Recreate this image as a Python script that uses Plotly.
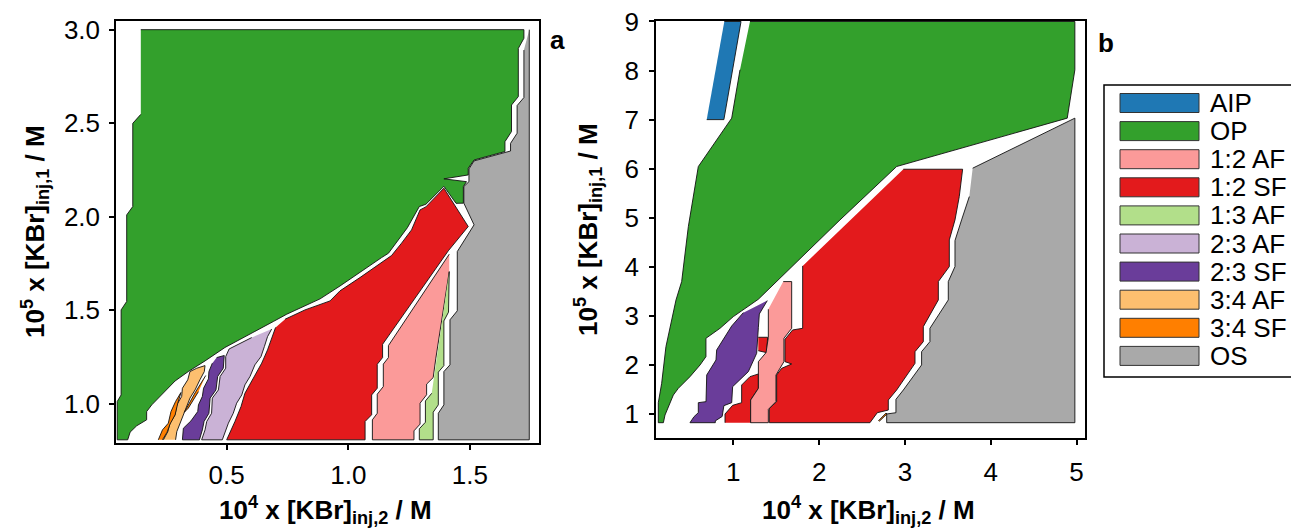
import plotly.graph_objects as go

W, H = 1291, 531
FONT = "Liberation Sans, Arial, sans-serif"

# ---------------- categories / styles ----------------
LABELS = ["AIP", "OP", "1:2 AF", "1:2 SF", "1:3 AF", "2:3 AF", "2:3 SF", "3:4 AF", "3:4 SF", "OS"]
COLORS = {"AIP": "#1f78b4", "OP": "#33a02c", "1:2 AF": "#fb9a99", "1:2 SF": "#e31a1c",
          "1:3 AF": "#b2df8a", "2:3 AF": "#cab2d6", "2:3 SF": "#6a3d9a", "3:4 AF": "#fdbf6f",
          "3:4 SF": "#ff7f00", "OS": "#a9a9a9"}

# ---------------- tick values ----------------
A_XTICKS = [0.5, 1.0, 1.5]
A_XTICKTEXT = ["0.5", "1.0", "1.5"]
A_YTICKS = [1.0, 1.5, 2.0, 2.5, 3.0]
A_YTICKTEXT = ["1.0", "1.5", "2.0", "2.5", "3.0"]
B_XTICKS = [1, 2, 3, 4, 5]
B_YTICKS = [1, 2, 3, 4, 5, 6, 7, 8, 9]

# ---------------- panel a region boundaries (10^4 x [KBr]inj,2 , 10^5 x [KBr]inj,1) ----------------
A_OP_X = [0.147, 1.722, 1.722, 1.699, 1.699, 1.671, 1.671, 1.644, 1.644, 1.517, 1.493, 1.493, 1.393, 1.486,
          1.473, 1.473, 1.443, 1.393, 1.319, 1.292, 1.243, 1.206, 1.165, 1.137, 1.048, 0.966, 0.884, 0.808,
          0.747, 0.692, 0.575, 0.493, 0.411, 0.342, 0.288, 0.253, 0.219, 0.192, 0.171, 0.171, 0.130, 0.103,
          0.093, 0.050, 0.050, 0.066, 0.066, 0.089, 0.089, 0.114, 0.114, 0.147]
A_OP_Y = [3.000, 3.000, 2.954, 2.900, 2.642, 2.597, 2.455, 2.401, 2.348, 2.303, 2.259, 2.223, 2.202, 2.187,
          2.161, 2.072, 2.071, 2.162, 2.066, 2.054, 1.941, 1.875, 1.804, 1.781, 1.701, 1.629, 1.560, 1.514,
          1.478, 1.439, 1.358, 1.300, 1.228, 1.171, 1.121, 1.073, 1.025, 0.993, 0.957, 0.913, 0.881, 0.847,
          0.806, 0.806, 1.011, 1.046, 1.501, 1.546, 2.009, 2.054, 2.499, 2.547]

A_OS_X = [1.744, 1.744, 1.370, 1.370, 1.393, 1.393, 1.418, 1.418, 1.448, 1.448, 1.517, 1.475, 1.475, 1.496,
          1.496, 1.517, 1.667, 1.667, 1.694, 1.694, 1.722, 1.722]
A_OS_Y = [3.000, 0.806, 0.806, 0.948, 0.993, 1.171, 1.207, 1.448, 1.496, 1.813, 1.956, 2.072, 2.161, 2.187,
          2.255, 2.298, 2.351, 2.392, 2.446, 2.594, 2.637, 2.891]

A_SF12_X = [0.740, 0.822, 0.925, 0.966, 1.048, 1.144, 1.178, 1.219, 1.260, 1.295, 1.319, 1.393, 1.493, 1.411,
            1.151, 1.141, 1.141, 1.119, 1.119, 1.096, 1.096, 1.069, 1.069, 0.500, 0.534, 0.559, 0.575, 0.610,
            0.644, 0.668, 0.685, 0.701]
A_SF12_Y = [1.451, 1.501, 1.549, 1.603, 1.674, 1.760, 1.792, 1.858, 1.929, 2.036, 2.052, 2.152, 1.947, 1.817,
            1.341, 1.317, 1.246, 1.210, 1.082, 1.046, 0.940, 0.904, 0.806, 0.806, 0.904, 0.984, 1.055, 1.136,
            1.216, 1.287, 1.350, 1.407]

A_AF12_X = [1.415, 1.174, 1.165, 1.165, 1.144, 1.144, 1.119, 1.119, 1.099, 1.099, 1.270, 1.270, 1.295, 1.295,
            1.322, 1.322, 1.349, 1.360, 1.415]
A_AF12_Y = [1.799, 1.332, 1.310, 1.246, 1.211, 1.091, 1.050, 0.948, 0.913, 0.806, 0.806, 0.854, 0.890, 1.002,
            1.047, 1.104, 1.139, 1.243, 1.706]

A_AF13_X = [1.415, 1.412, 1.393, 1.393, 1.370, 1.370, 1.349, 1.349, 1.292, 1.292, 1.317, 1.317, 1.343]
A_AF13_Y = [1.706, 1.489, 1.442, 1.203, 1.168, 0.993, 0.954, 0.806, 0.806, 0.865, 0.900, 1.014, 1.055]

A_AF23_X = [0.685, 0.668, 0.655, 0.641, 0.616, 0.596, 0.575, 0.562, 0.541, 0.527, 0.507, 0.482, 0.397, 0.411,
            0.418, 0.438, 0.441, 0.466, 0.473, 0.496, 0.496, 0.510, 0.603]
A_AF23_Y = [1.399, 1.358, 1.305, 1.251, 1.207, 1.145, 1.100, 1.046, 1.002, 0.948, 0.895, 0.806, 0.806, 0.859,
            0.904, 0.948, 1.029, 1.073, 1.145, 1.189, 1.251, 1.292, 1.353]

A_SF23_X = [0.459, 0.490, 0.486, 0.463, 0.456, 0.432, 0.427, 0.407, 0.400, 0.388, 0.318, 0.322, 0.353, 0.381,
            0.384, 0.400, 0.405, 0.425, 0.427, 0.441]
A_SF23_Y = [1.246, 1.257, 1.189, 1.145, 1.073, 1.029, 0.948, 0.904, 0.859, 0.806, 0.806, 0.868, 0.907, 0.957,
            0.993, 1.038, 1.082, 1.132, 1.171, 1.216]

A_AF34_X = [0.240, 0.258, 0.267, 0.288, 0.295, 0.315, 0.318, 0.340, 0.349, 0.377, 0.411, 0.408, 0.390, 0.370,
            0.349, 0.336, 0.322, 0.308, 0.295, 0.290]
A_AF34_Y = [0.806, 0.850, 0.895, 0.940, 0.993, 1.038, 1.082, 1.127, 1.171, 1.189, 1.203, 1.171, 1.127, 1.073,
            1.029, 0.984, 0.940, 0.895, 0.850, 0.806]

A_SF34_X = [0.219, 0.236, 0.260, 0.271, 0.290, 0.312, 0.299, 0.288, 0.267, 0.255, 0.236, None,
            0.414, 0.373, 0.326, 0.342, 0.384]
A_SF34_Y = [0.806, 0.859, 0.895, 0.957, 1.011, 1.059, 1.002, 0.940, 0.890, 0.847, 0.806, None,
            1.150, 1.064, 0.954, 0.975, 1.064]

# ---------------- panel b region boundaries ----------------
B_AIP_X = [0.69, 0.89, 1.09, 0.895]
B_AIP_Y = [7.0, 7.0, 9.0, 9.0]

B_OP_X = [1.194, 4.98, 4.98, 4.891, 2.903, 2.243, 1.291, 1.000, 0.845, 0.681, 0.681, 0.612, 0.495, 0.359,
          0.301, 0.243, 0.204, 0.185, 0.126, 0.126, 0.165, 0.215, 0.332, 0.398, 0.476, 0.592, 0.981, 1.078]
B_OP_Y = [9.0, 9.0, 8.015, 7.03, 6.044, 4.956, 3.338, 2.985, 2.747, 2.543, 2.169, 1.999, 1.761, 1.523,
          1.387, 1.149, 0.979, 0.823, 0.823, 1.231, 1.625, 2.373, 3.325, 3.699, 4.82, 6.043, 7.03, 8.015]

B_SF12_X = [2.981, 3.672, 3.633, 3.583, 3.517, 3.517, 3.389, 3.389, 3.214, 3.214, 3.117, 3.117, 2.903, 2.806,
            2.806, 2.678, 2.592, 1.419, 1.419, 1.505, 1.505, 1.563, 1.680, 1.602, 1.602, 1.691, 1.808, 1.808,
            None, 1.291, 1.400, 1.388, 1.291,
            None, 0.903, 0.903, 0.992, 1.097, 1.097, 1.194, 1.292, 1.292, 1.202, 1.202]
B_SF12_Y = [5.989, 5.989, 5.432, 4.956, 4.549, 4.005, 3.699, 3.325, 2.781, 2.475, 2.271, 2.033, 1.489, 1.285,
            1.081, 1.027, 0.823, 0.823, 1.116, 1.252, 1.795, 1.931, 2.020, 2.067, 2.523, 2.713, 2.747, 4.018,
            None, 2.564, 2.564, 2.251, 2.290,
            None, 0.823, 1.000, 1.177, 1.231, 1.591, 1.761, 1.816, 1.523, 1.285, 0.823]

B_AF12_X = [1.582, 1.680, 1.680, 1.590, 1.590, 1.497, 1.497, 1.408, 1.408, 1.202, 1.202, 1.292, 1.292, 1.381,
            1.408, 1.408]
B_AF12_Y = [3.699, 3.699, 2.747, 2.543, 2.067, 1.795, 1.252, 1.095, 0.823, 0.823, 1.285, 1.523, 2.067, 2.251,
            2.563, 3.135]

B_SF23_X = [1.396, 1.303, 1.292, 1.272, 1.175, 1.078, 0.992, 0.981, 0.890, 0.870, 0.790, 0.790, 0.495, 0.542,
            0.592, 0.592, 0.682, 0.690, 0.798, 0.806, 0.981, 1.117]
B_SF23_Y = [3.311, 3.039, 2.767, 2.237, 1.863, 1.693, 1.557, 1.231, 1.170, 0.950, 0.860, 0.823, 0.823, 0.946,
            1.027, 1.231, 1.252, 1.795, 2.101, 2.305, 2.794, 3.066]

B_OS_X = [3.789, 4.98, 4.98, 2.787, 2.787, 2.895, 2.895, 2.981, 3.194, 3.194, 3.291, 3.291, 3.505, 3.505,
          3.583, 3.583, 3.660, 3.750]
B_OS_Y = [6.010, 7.03, 0.823, 0.823, 1.000, 1.027, 1.299, 1.489, 2.000, 2.271, 2.475, 2.747, 3.325, 3.699,
          4.005, 4.535, 4.956, 5.432]

B_SF34_X = [2.69, 2.78, 2.79, 2.70]
B_SF34_Y = [0.86, 1.02, 1.00, 0.85]

PANEL_A = [("OP", A_OP_X, A_OP_Y), ("OS", A_OS_X, A_OS_Y), ("1:2 SF", A_SF12_X, A_SF12_Y),
           ("1:2 AF", A_AF12_X, A_AF12_Y), ("1:3 AF", A_AF13_X, A_AF13_Y), ("2:3 AF", A_AF23_X, A_AF23_Y),
           ("2:3 SF", A_SF23_X, A_SF23_Y), ("3:4 AF", A_AF34_X, A_AF34_Y), ("3:4 SF", A_SF34_X, A_SF34_Y)]
PANEL_B = [("AIP", B_AIP_X, B_AIP_Y), ("OP", B_OP_X, B_OP_Y), ("1:2 SF", B_SF12_X, B_SF12_Y),
           ("1:2 AF", B_AF12_X, B_AF12_Y), ("2:3 SF", B_SF23_X, B_SF23_Y), ("OS", B_OS_X, B_OS_Y),
           ("3:4 SF", B_SF34_X, B_SF34_Y)]


def fx(p):
    return p / W


def fy(p):
    return 1 - p / H


fig = go.Figure()
for (lab, xs, ys) in PANEL_A:
    fig.add_trace(go.Scatter(x=xs, y=ys, mode="lines", fill="toself", fillcolor=COLORS[lab],
                             line=dict(color="#111111", width=0.9), xaxis="x", yaxis="y",
                             hoverinfo="skip", showlegend=False, name=lab))
for (lab, xs, ys) in PANEL_B:
    fig.add_trace(go.Scatter(x=xs, y=ys, mode="lines", fill="toself", fillcolor=COLORS[lab],
                             line=dict(color="#111111", width=0.9), xaxis="x2", yaxis="y2",
                             hoverinfo="skip", showlegend=False, name=lab))

axis_common = dict(showgrid=False, zeroline=False, showline=True, linecolor="black", linewidth=1.5,
                   mirror=True, ticks="outside", ticklen=5, tickwidth=1.5, tickcolor="black",
                   automargin=False,
                   tickfont=dict(family=FONT, size=26, color="black"))

fig.update_layout(
    template="none",
    width=W, height=H, margin=dict(l=0, r=0, t=0, b=0, pad=0), autosize=False,
    paper_bgcolor="white", plot_bgcolor="white", showlegend=False,
    xaxis=dict(domain=[fx(116), fx(539)], range=[0.045, 1.784], tickvals=A_XTICKS, ticktext=A_XTICKTEXT,
               anchor="y", ticklabelstandoff=3, **axis_common),
    yaxis=dict(domain=[fy(443), fy(20.7)], range=[0.789, 3.048], tickvals=A_YTICKS, ticktext=A_YTICKTEXT,
               anchor="x", ticklabelstandoff=4, **axis_common),
    xaxis2=dict(domain=[fx(656), fx(1085)], range=[0.099, 5.098], tickvals=B_XTICKS,
                anchor="y2", ticklabelstandoff=5, **axis_common),
    yaxis2=dict(domain=[fy(438.3), fy(21)], range=[0.505, 9.01], tickvals=B_YTICKS,
                anchor="x2", ticklabelstandoff=5, **axis_common),
)

XT = "<b>10<sup>4</sup> x [KBr]<sub>inj,2</sub> / M</b>"
YT = "<b>10<sup>5</sup> x [KBr]<sub>inj,1</sub> / M</b>"
title_font = dict(family=FONT, size=26, color="black")
ann = [
    dict(text=XT, x=fx(325), y=fy(510), xref="paper", yref="paper", showarrow=False,
         xanchor="center", yanchor="middle", font=title_font),
    dict(text=XT, x=fx(868), y=fy(510), xref="paper", yref="paper", showarrow=False,
         xanchor="center", yanchor="middle", font=title_font),
    dict(text=YT, x=fx(35), y=fy(232), xref="paper", yref="paper", showarrow=False, textangle=-90,
         xanchor="center", yanchor="middle", font=title_font),
    dict(text=YT, x=fx(588), y=fy(230), xref="paper", yref="paper", showarrow=False, textangle=-90,
         xanchor="center", yanchor="middle", font=title_font),
    dict(text="<b>a</b>", x=fx(557), y=fy(40), xref="paper", yref="paper", showarrow=False,
         xanchor="center", yanchor="middle", font=dict(family=FONT, size=26, color="black")),
    dict(text="<b>b</b>", x=fx(1106), y=fy(43), xref="paper", yref="paper", showarrow=False,
         xanchor="center", yanchor="middle", font=dict(family=FONT, size=26, color="black")),
]

shapes = [dict(type="rect", xref="paper", yref="paper", x0=fx(1104), x1=fx(1310), y0=fy(377), y1=fy(85),
               line=dict(color="black", width=1.5), fillcolor="rgba(0,0,0,0)")]
for i, lab in enumerate(LABELS):
    top = 93.5 + i * 28.1
    shapes.append(dict(type="rect", xref="paper", yref="paper", x0=fx(1120), x1=fx(1199),
                       y0=fy(top + 19), y1=fy(top), fillcolor=COLORS[lab],
                       line=dict(color="#333333", width=1)))
    ann.append(dict(text=lab, x=fx(1208), y=fy(top + 9.5), xref="paper", yref="paper", showarrow=False,
                    xanchor="left", yanchor="middle", font=dict(family=FONT, size=26, color="black")))

fig.update_layout(annotations=ann, shapes=shapes)

fig.write_html("out.html", include_plotlyjs=True, full_html=True, config={"displayModeBar": False},
               post_script="document.body.style.margin='0px';")
